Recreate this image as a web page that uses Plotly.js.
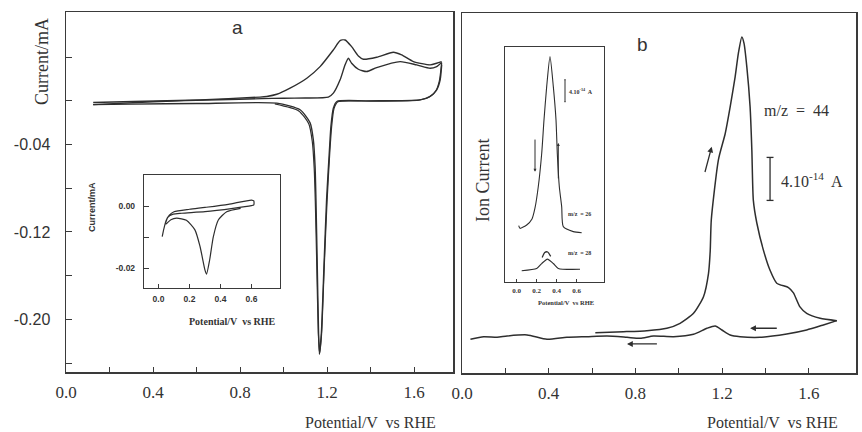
<!DOCTYPE html>
<html><head><meta charset="utf-8">
<script src="https://cdn.plot.ly/plotly-3.0.1.min.js"></script>
<style>html,body{margin:0;padding:0;background:#fff}#chart{width:862px;height:432px}</style>
</head><body><div id="chart"></div>
<script>
// ---------- Panel a : main cyclic voltammogram (V vs RHE, mA) ----------
const aFwd1V = [0.125,0.31,0.616,0.892,0.923,0.969,1.030,1.107,1.168,1.229,1.260,1.283,1.313,1.344,1.367,1.428,1.505,1.543,1.597,1.674,1.704,1.727];
const aFwd1I = [-0.0015,-0.0006,0.0009,0.0034,0.004,0.006,0.0116,0.0207,0.0313,0.0466,0.0551,0.0557,0.0496,0.0411,0.0381,0.0399,0.0444,0.042,0.0359,0.0329,0.0344,0.0359];
const aRev1V = [1.727,1.720,1.704,1.674,1.628,1.382,1.245,1.229,1.218,1.211,1.198,1.186,1.174,1.165,1.161,1.155,1.149,1.145,1.137,1.122,1.076,0.969,0.6,0.3,0.125];
const aRev1I = [0.033,0.0192,0.010,0.004,0.0009,0.0,-0.0006,-0.0067,-0.023,-0.045,-0.090,-0.151,-0.212,-0.232,-0.212,-0.151,-0.090,-0.060,-0.0356,-0.020,-0.0082,-0.0021,-0.0025,-0.003,-0.0035];
const aFwd2V = [0.125,0.4,0.7,0.9,1.0,1.1,1.206,1.229,1.260,1.283,1.298,1.313,1.344,1.382,1.428,1.536,1.612,1.674,1.704,1.727];
const aFwd2I = [-0.0035,-0.0008,0.001,0.002,0.0024,0.0026,0.0034,0.007,0.0192,0.033,0.039,0.0344,0.0289,0.0268,0.0304,0.0359,0.0329,0.0298,0.0313,0.035];
const aRev2V = [1.727,1.716,1.70,1.67,1.62,1.40,1.25,1.232,1.221,1.213,1.200,1.187,1.175,1.166,1.160,1.153,1.146,1.141,1.132,1.116,1.07,0.96];
const aRev2I = [0.035,0.018,0.009,0.0035,0.0006,-0.0003,-0.0009,-0.007,-0.024,-0.046,-0.092,-0.152,-0.213,-0.231,-0.213,-0.152,-0.092,-0.062,-0.037,-0.021,-0.0092,-0.0028];

// ---------- Panel a inset ----------
const insAV = [0.024,0.035,0.05,0.07,0.1,0.2,0.3,0.45,0.6,0.615,0.615,0.6,0.48,0.3,0.15,0.095,0.06,0.045];
const insAI = [-0.0098,-0.0072,-0.0045,-0.0028,-0.0017,-0.0009,-0.0003,0.0007,0.0021,0.0018,0.0005,0.0003,-0.0006,-0.0017,-0.0022,-0.0025,-0.0035,-0.0055];
const insAPeakV = [0.045,0.053,0.08,0.117,0.18,0.235,0.268,0.30,0.31,0.33,0.354,0.386,0.44,0.53];
const insAPeakI = [-0.0058,-0.0055,-0.0043,-0.0038,-0.0045,-0.0076,-0.013,-0.0207,-0.022,-0.0174,-0.0098,-0.0044,-0.0017,-0.0006];

// ---------- Panel b : m/z = 44 ion current (units of 1e-14 A) ----------
const bFwdV = [0.615,0.745,0.853,0.945,1.006,1.068,1.114,1.137,1.145,1.150,1.183,1.214,1.237,1.260,1.275,1.291,1.301,1.314,1.329,1.337,1.344,1.36,1.39,1.421,1.452,1.506,1.529,1.559,1.590,1.652,1.729];
const bFwdI = [0.40,0.49,0.59,0.81,1.27,2.2,3.75,5.9,8.0,10.9,16.5,18.9,21.4,24.2,26.4,27.9,27.3,25.1,21.4,17.4,12.7,10.6,8.1,6.2,5.0,4.6,4.1,2.8,2.2,1.74,1.52];
const bRevV = [1.729,1.667,1.590,1.498,1.375,1.283,1.237,1.199,1.168,1.130,1.068,0.976,0.883,0.822,0.761,0.669,0.576,0.484,0.392,0.300,0.208,0.162,0.100,0.039];
const bRevI = [1.52,1.12,0.65,0.28,-0.03,0.03,0.19,0.65,1.02,0.81,0.25,0.03,0.09,-0.12,-0.03,0.09,0.03,-0.03,-0.22,0.19,0.09,-0.03,0.03,-0.22];

// ---------- Panel b inset (m/z = 26 and 28, offset, units of 1e-14 A) ----------
const m26V = [0.02,0.033,0.10,0.153,0.183,0.216,0.25,0.273,0.30,0.333,0.366,0.393,0.406,0.426,0.45,0.466,0.566,0.65];
const m26I = [10.2,9.7,10.3,11.4,13.4,17.3,23.3,29.4,35.5,40.9,35.5,29.4,23.3,17.3,13.6,10.0,9.1,8.9];
const m28V = [0.05,0.2,0.25,0.307,0.366,0.416,0.633];
const m28I = [2.0,2.4,3.3,4.1,3.3,2.4,2.25];
const m28CapV = [0.255,0.28,0.31,0.34];
const m28CapI = [4.4,5.3,5.4,4.6];

// tick labels
const aXTickVals = [0,0.2,0.4,0.6,0.8,1.0,1.2,1.4,1.6];
const aXTickText = ['0.0','','0.4','','0.8','','1.2','','1.6'];
const aYTickVals = [0.04,0,-0.04,-0.08,-0.12,-0.16,-0.20,-0.24];
const aYTickText = ['','','-0.04','','-0.12','','-0.20',''];
const insXTickVals = [0,0.2,0.4,0.6];
const insXTickText = ['0.0','0.2','0.4','0.6'];
const insAYTickVals = [0,-0.01,-0.02];
const insAYTickText = ['0.00','','-0.02'];
const scaleBar = 4; // 4·10^-14 A

const LC = '#2e2e2e';
function tr(x,y,xa,ya,w){return {x:x,y:y,xaxis:xa,yaxis:ya,type:'scatter',mode:'lines',line:{color:LC,width:w||1.4,shape:'spline',smoothing:0.6},hoverinfo:'skip',showlegend:false};}

const data = [
  tr(aFwd1V,aFwd1I,'x','y'), tr(aRev1V,aRev1I,'x','y'), tr(aFwd2V,aFwd2I,'x','y'), tr(aRev2V,aRev2I,'x','y',1.2),
  tr(insAV,insAI,'x2','y2',1.2), tr(insAPeakV,insAPeakI,'x2','y2',1.2),
  tr(bFwdV,bFwdI,'x3','y3',1.5), tr(bRevV,bRevI,'x3','y3',1.5),
  tr(m26V,m26I,'x4','y4',1.1), tr(m28V,m28I,'x4','y4',1.1), tr(m28CapV,m28CapI,'x4','y4',1.3)
];

const serif = 'Liberation Serif, Times New Roman, serif';
const sans = 'Liberation Sans, Arial, sans-serif';
const frame = {showline:true,mirror:true,linecolor:'#3a3a3a',linewidth:1.5,showgrid:false,zeroline:false,ticks:'inside',tickcolor:'#3a3a3a'};

const W=862,H=432;
function px(x){return x/W;} function py(y){return 1-y/H;}
function lab(text,x,y,size,family,extra){return Object.assign({text:text,xref:'paper',yref:'paper',x:px(x),y:py(y),xanchor:'center',yanchor:'middle',showarrow:false,font:{family:family,size:size,color:'#333'}},extra||{});}

const layout = {
  width:W,height:H,margin:{l:0,r:0,t:0,b:0},paper_bgcolor:'#fff',plot_bgcolor:'rgba(0,0,0,0)',showlegend:false,
  xaxis:Object.assign({},frame,{domain:[px(66),px(453)],range:[0,1.779],tickvals:aXTickVals,ticktext:aXTickText,ticklen:5,ticklabelstandoff:4,tickfont:{family:serif,size:17,color:'#333'},anchor:'y'}),
  yaxis:Object.assign({},frame,{domain:[py(372),py(12)],range:[-0.2482,0.0813],tickvals:aYTickVals,ticktext:aYTickText,ticklen:6,ticklabelstandoff:11,tickfont:{family:sans,size:16,color:'#333'},anchor:'x'}),
  xaxis2:Object.assign({},frame,{domain:[px(144),px(280)],range:[-0.0935,0.784],tickvals:insXTickVals,ticktext:insXTickText,ticklen:4,ticklabelstandoff:3,linewidth:1.2,tickfont:{family:sans,size:8.5,color:'#333',weight:'bold'},anchor:'y2'}),
  yaxis2:Object.assign({},frame,{domain:[py(288),py(175)],range:[-0.0265,0.01024],tickvals:insAYTickVals,ticktext:insAYTickText,ticklen:5,ticklabelstandoff:6,linewidth:1.2,tickfont:{family:sans,size:8.5,color:'#333',weight:'bold'},anchor:'x2'}),
  xaxis3:Object.assign({},frame,{domain:[px(462),px(856)],range:[0,1.8175],tickvals:aXTickVals,ticktext:aXTickText,ticklen:5,ticklabelstandoff:4,tickfont:{family:serif,size:17,color:'#333'},anchor:'y3'}),
  yaxis3:Object.assign({},frame,{domain:[py(373),py(13)],range:[-3.35,30.13],showticklabels:false,ticks:'',anchor:'x3'}),
  xaxis4:Object.assign({},frame,{domain:[px(505),px(604)],range:[-0.117,0.873],tickvals:insXTickVals,ticktext:insXTickText,ticklen:3,ticklabelstandoff:2,linewidth:1.2,tickfont:{family:serif,size:7,color:'#333',weight:'bold'},anchor:'y4'}),
  yaxis4:Object.assign({},frame,{domain:[py(281.7),py(46.7)],range:[0,42.7],showticklabels:false,ticks:'',linewidth:1.2,anchor:'x4'}),
  shapes:[
    {type:'line',xref:'x3',yref:'y3',x0:1.421,x1:1.421,y0:12.7,y1:12.7+scaleBar,line:{color:LC,width:1.3}},
    {type:'line',xref:'x3',yref:'y3',x0:1.405,x1:1.437,y0:12.7,y1:12.7,line:{color:LC,width:1.3}},
    {type:'line',xref:'x3',yref:'y3',x0:1.405,x1:1.437,y0:12.7+scaleBar,y1:12.7+scaleBar,line:{color:LC,width:1.3}},
    {type:'line',xref:'x4',yref:'y4',x0:0.483,x1:0.483,y0:32.7,y1:32.7+scaleBar,line:{color:LC,width:1}},
    {type:'line',xref:'x4',yref:'y4',x0:0.475,x1:0.491,y0:32.7,y1:32.7,line:{color:LC,width:0.8}},
    {type:'line',xref:'x4',yref:'y4',x0:0.475,x1:0.491,y0:32.7+scaleBar,y1:32.7+scaleBar,line:{color:LC,width:0.8}}
  ],
  annotations:[
    lab('a',237,28,19,sans),
    lab('b',642,45,19,sans),
    lab('Current/mA',42,62,18,serif,{textangle:-90}),
    lab('Ion Current',483,181,18,serif,{textangle:-90}),
    lab('Potential/V  vs RHE',370,422,16,serif),
    lab('Potential/V  vs RHE',772,422,16,serif),
    lab('Current/mA',92,207,9,sans,{textangle:-90,font:{family:sans,size:9,color:'#333',weight:'bold'}}),
    lab('Potential/V  vs RHE',232,321,10,serif,{font:{family:serif,size:10,color:'#333',weight:'bold'}}),
    lab('Potential/V  vs RHE',566,302,6.5,serif,{font:{family:serif,size:6.5,color:'#333',weight:'bold'}}),
    lab('m/z  =  44',796,110,16,serif),
    lab('4.10<sup>-14</sup>  A',779,180,16,serif,{xanchor:'left'}),
    lab('4.10<sup>-14</sup>  A',567,91,6,serif,{xanchor:'left',font:{family:serif,size:6,color:'#333',weight:'bold'}}),
    lab('m/z  = 26',566,214,6,serif,{xanchor:'left',font:{family:serif,size:6,color:'#333',weight:'bold'}}),
    lab('m/z  = 28',566,253,6,serif,{xanchor:'left',font:{family:serif,size:6,color:'#333',weight:'bold'}}),
    // arrows panel b
    {xref:'x3',yref:'y3',axref:'x3',ayref:'y3',x:1.152,y:17.7,ax:1.119,ay:15.2,text:'',showarrow:true,arrowhead:2,arrowsize:0.9,arrowwidth:1.3,arrowcolor:LC},
    {xref:'x3',yref:'y3',axref:'x3',ayref:'y3',x:1.329,y:0.81,ax:1.459,ay:0.81,text:'',showarrow:true,arrowhead:2,arrowsize:0.9,arrowwidth:1.3,arrowcolor:LC},
    {xref:'x3',yref:'y3',axref:'x3',ayref:'y3',x:0.761,y:-0.65,ax:0.906,ay:-0.65,text:'',showarrow:true,arrowhead:2,arrowsize:0.9,arrowwidth:1.3,arrowcolor:LC},
    {xref:'x4',yref:'y4',axref:'x4',ayref:'y4',x:0.183,y:20.0,ax:0.183,ay:26.1,text:'',showarrow:true,arrowhead:2,arrowsize:0.6,arrowwidth:1,arrowcolor:LC},
    {xref:'x4',yref:'y4',axref:'x4',ayref:'y4',x:0.416,y:25.2,ax:0.416,ay:18.5,text:'',showarrow:true,arrowhead:2,arrowsize:0.6,arrowwidth:1,arrowcolor:LC}
  ]
};
Plotly.newPlot('chart',data,layout,{staticPlot:true,displayModeBar:false});
</script></body></html>
